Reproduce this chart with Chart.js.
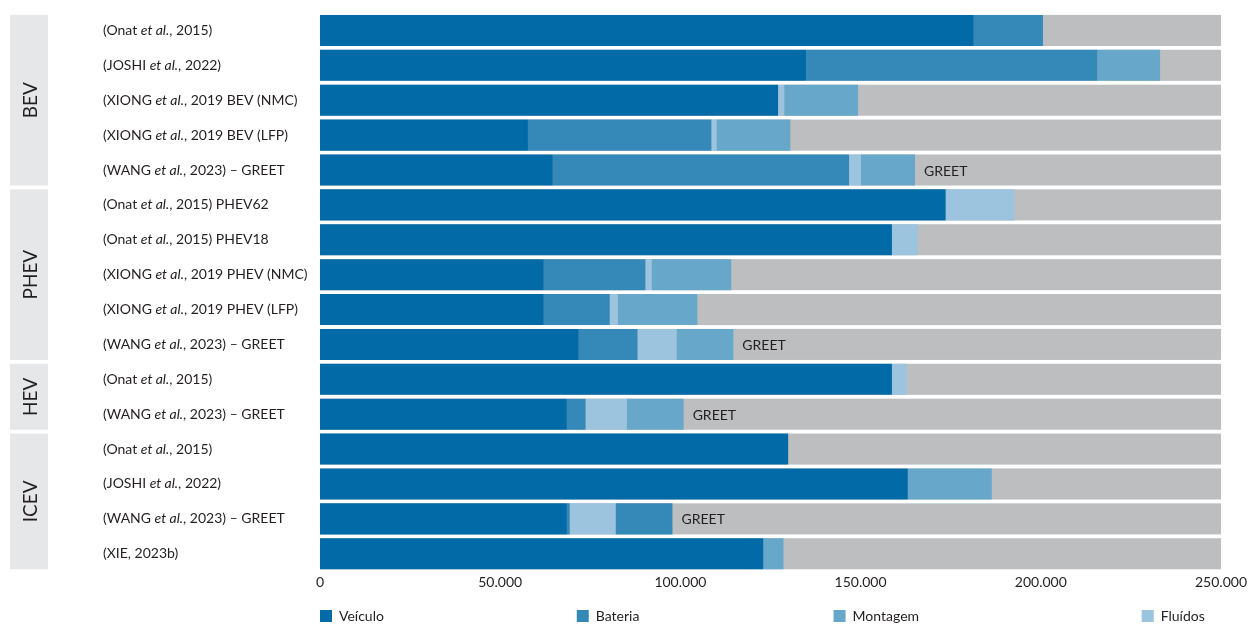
<!doctype html>
<html lang="pt">
<head>
<meta charset="UTF-8">
<script src="https://cdn.jsdelivr.net/npm/chart.js@4.4.1/dist/chart.umd.min.js"></script>
<title>Emissões por componente</title>
<style>
    * { margin: 0; padding: 0; box-sizing: border-box; }
    body { background: #fff; }
    .wrap { width: 1250px; height: 626px; position: relative; }
</style>
</head>
<body>
<div class="wrap"><canvas id="canvas"></canvas></div>
<script>
    // Estudos (linhas do gráfico)
    const categories = [
        "(Onat et al., 2015)",
        "(JOSHI et al., 2022)",
        "(XIONG et al., 2019 BEV (NMC)",
        "(XIONG et al., 2019 BEV (LFP)",
        "(WANG et al., 2023) – GREET",
        "(Onat et al., 2015) PHEV62",
        "(Onat et al., 2015) PHEV18",
        "(XIONG et al., 2019 PHEV (NMC)",
        "(XIONG et al., 2019 PHEV (LFP)",
        "(WANG et al., 2023) – GREET",
        "(Onat et al., 2015)",
        "(WANG et al., 2023) – GREET",
        "(Onat et al., 2015)",
        "(JOSHI et al., 2022)",
        "(WANG et al., 2023) – GREET",
        "(XIE, 2023b)"
    ];

    // Grupos de veículos e quantas linhas cada um ocupa
    const groups = ["BEV", "PHEV", "HEV", "ICEV"];
    const groupSizes = [5, 5, 2, 4];

    // Séries
    const veiculo  = [181400, 134900, 127100, 57700, 64600, 173600, 158700, 62100, 62100, 71800, 158700, 68500, 129900, 163100, 68500, 123000];
    const bateria  = [19200, 80800, 0, 50900, 82200, 0, 0, 28200, 18300, 16300, 0, 5200, 0, 0, 800, 0];
    const fluidos  = [0, 0, 1700, 1400, 3300, 19100, 7200, 1700, 2200, 10800, 4100, 11400, 0, 0, 12700, 0];
    const montagem = [0, 17400, 20500, 20500, 15000, 0, 0, 22100, 22100, 15800, 0, 15800, 0, 23300, 15800, 5600];

    // Nota escrita depois da barra
    const notas = ["", "", "", "", "GREET", "", "", "", "", "GREET", "", "GREET", "", "", "GREET", ""];

    // Eixo x
    const xMax = 250000;
    const xStep = 50000;

    const cores = {
        veiculo: "#026aa7",
        bateria: "#3589b9",
        montagem: "#67a7ca",
        fluidos: "#9cc4de",
        fundo: "#bdbec0",
        grupo: "#e6e7e8",
        texto: "#231f20"
    };

    const FONT = "Lato, 'Open Sans', sans-serif";

    // Barras cinzentas até ao máximo do eixo
    const fundoPlugin = {
        id: "fundo",
        beforeDatasetsDraw(chart) {
            const ctx = chart.ctx;
            const x = chart.scales.x;
            const meta = chart.getDatasetMeta(0);
            ctx.save();
            ctx.fillStyle = cores.fundo;
            meta.data.forEach((bar) => {
                const h = bar.height;
                ctx.fillRect(x.getPixelForValue(0), bar.y - h / 2, x.getPixelForValue(xMax) - x.getPixelForValue(0), h);
            });
            ctx.restore();
        }
    };

    // Rótulos à esquerda, grupos e legenda
    const textosPlugin = {
        id: "textos",
        afterDraw(chart) {
            const ctx = chart.ctx;
            const y = chart.scales.y;
            const x = chart.scales.x;
            const meta0 = chart.getDatasetMeta(0);
            ctx.save();
            ctx.fillStyle = cores.texto;
            ctx.textBaseline = "middle";

            // rótulos das linhas ("et al." em itálico)
            categories.forEach((lab, i) => {
                const py = y.getPixelForValue(i);
                let px = 103;
                const k = lab.indexOf("et al.");
                const parts = k < 0 ? [[lab, false]] : [[lab.slice(0, k), false], ["et al.", true], [lab.slice(k + 6), false]];
                parts.forEach(([t, it]) => {
                    ctx.font = (it ? "italic " : "") + "14px " + FONT;
                    ctx.textAlign = "left";
                    ctx.fillText(t, px, py);
                    px += ctx.measureText(t).width;
                });
            });

            // caixas dos grupos
            let start = 0;
            groups.forEach((g, gi) => {
                const first = meta0.data[start];
                const last = meta0.data[start + groupSizes[gi] - 1];
                const top = first.y - first.height / 2;
                const bottom = last.y + last.height / 2;
                ctx.fillStyle = cores.grupo;
                ctx.fillRect(10, top, 38, bottom - top);
                ctx.save();
                ctx.translate(30, (top + bottom) / 2);
                ctx.rotate(-Math.PI / 2);
                ctx.fillStyle = cores.texto;
                ctx.font = "19px " + FONT;
                ctx.textAlign = "center";
                ctx.fillText(g, 0, 1);
                ctx.restore();
                start += groupSizes[gi];
            });

            // notas (GREET)
            ctx.font = "14px " + FONT;
            ctx.textAlign = "left";
            ctx.fillStyle = cores.texto;
            notas.forEach((n, i) => {
                if (!n) return;
                let end = x.getPixelForValue(0);
                chart.data.datasets.forEach((ds, di) => {
                    const bar = chart.getDatasetMeta(di).data[i];
                    if (ds.data[i] > 0) end = Math.max(end, bar.x);
                });
                ctx.fillText(n, end + 9, y.getPixelForValue(i) + 1);
            });

            // legenda
            const ordem = [0, 1, 3, 2];
            const pos = [0, 0.285, 0.57, 0.912];
            const w = x.right - x.left;
            ordem.forEach((di, k) => {
                const ds = chart.data.datasets[di];
                const lx = x.left + pos[k] * w;
                ctx.fillStyle = ds.legendColor;
                ctx.fillRect(lx, 610, 12, 12);
                ctx.fillStyle = cores.texto;
                ctx.font = "14px " + FONT;
                ctx.fillText(ds.label, lx + 19, 616);
            });
            ctx.restore();
        }
    };

    const ctx = document.getElementById("canvas").getContext("2d");
    new Chart(ctx, {
        type: "bar",
        data: {
            labels: categories,
            datasets: [
                { label: "Veículo", data: veiculo, backgroundColor: cores.veiculo, legendColor: cores.veiculo },
                { label: "Bateria", data: bateria, backgroundColor: cores.bateria, legendColor: cores.bateria },
                { label: "Fluídos", data: fluidos, backgroundColor: cores.fluidos, legendColor: cores.fluidos },
                {
                    label: "Montagem", data: montagem, legendColor: cores.montagem,
                    // na linha ICEV do GREET esta parte aparece com a cor da bateria
                    backgroundColor: (c) => (c.dataIndex === 14 ? cores.bateria : cores.montagem)
                }
            ]
        },
        options: {
            indexAxis: "y",
            responsive: true,
            maintainAspectRatio: false,
            animation: false,
            layout: { padding: { left: 320, right: 24, top: 13, bottom: 32 } },
            datasets: { bar: { categoryPercentage: 1, barPercentage: 0.89, borderWidth: 0 } },
            scales: {
                x: {
                    stacked: true,
                    min: 0,
                    max: xMax,
                    grid: { display: false, drawTicks: false },
                    border: { display: false },
                    ticks: {
                        stepSize: xStep,
                        padding: 3,
                        color: cores.texto,
                        font: { family: FONT, size: 14 },
                        callback: (v) => String(v).replace(/\B(?=(\d{3})+(?!\d))/g, ".")
                    }
                },
                y: { stacked: true, display: false }
            },
            plugins: { legend: { display: false }, tooltip: { enabled: false } }
        },
        plugins: [fundoPlugin, textosPlugin]
    });
</script>
</body>
</html>
